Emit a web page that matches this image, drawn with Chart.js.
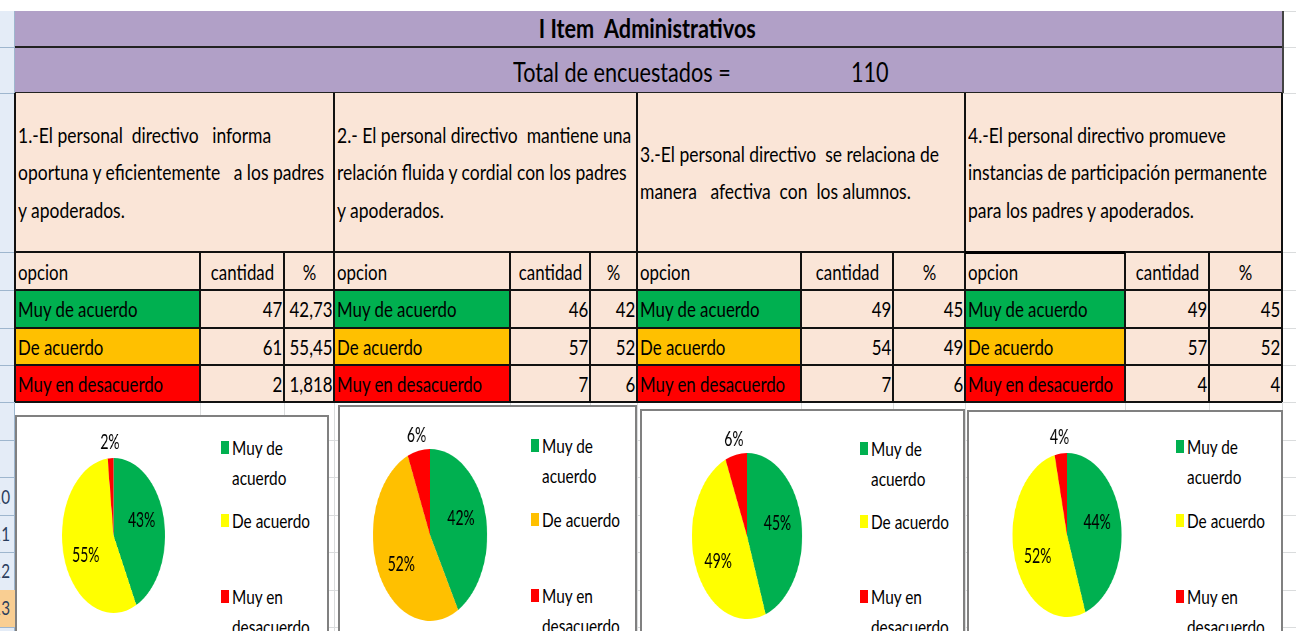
<!DOCTYPE html>
<html>
<head>
<meta charset="utf-8">
<script src="https://cdn.jsdelivr.net/npm/chart.js@4.4.0/dist/chart.umd.min.js"></script>
<style>
  html, body { margin: 0; padding: 0; }
  body {
    width: 1296px; height: 631px; overflow: hidden; position: relative; background: #fff;
    font-family: Lato, "Open Sans", sans-serif; color: #000;
  }
  .abs { position: absolute; box-sizing: border-box; }
  .in { display: inline-block; white-space: pre; }
</style>
</head>
<body>
<script>
// ===== data =====
const titulo = 'I Item  Administrativos';
const totalTexto = 'Total de encuestados =';
const totalValor = 110;
const encabezados = ['opcion', 'cantidad', '%'];
const opciones = ['Muy de acuerdo', 'De acuerdo', 'Muy en desacuerdo'];
const leyenda = ['Muy de\nacuerdo', 'De acuerdo', 'Muy en\ndesacuerdo'];

const pregunta1 = '1.-El personal  directivo   informa\noportuna y eficientemente   a los padres\ny apoderados.';
const pregunta2 = '2.- El personal directivo  mantiene una\nrelación fluida y cordial con los padres\ny apoderados.';
const pregunta3 = '3.-El personal directivo  se relaciona de\nmanera   afectiva  con  los alumnos.';
const pregunta4 = '4.-El personal directivo promueve\ninstancias de participación permanente\npara los padres y apoderados.';

const cantidad1 = [47, 61, 2];
const cantidad2 = [46, 57, 7];
const cantidad3 = [49, 54, 7];
const cantidad4 = [49, 57, 4];
const porcentaje1 = ['42,73', '55,45', '1,818'];
const porcentaje2 = ['42', '52', '6'];
const porcentaje3 = ['45', '49', '6'];
const porcentaje4 = ['45', '52', '4'];
const etiquetas1 = ['43%', '55%', '2%'];
const etiquetas2 = ['42%', '52%', '6%'];
const etiquetas3 = ['45%', '49%', '6%'];
const etiquetas4 = ['44%', '52%', '4%'];

const filasNumero = ['10', '11', '12', '13'];

// ===== colours & layout =====
const VERDE = '#00B050', AMARILLO = '#FFFF00', NARANJA = '#FFC000', ROJO = '#FF0000';
const coloresTabla = [VERDE, NARANJA, ROJO];
const coloresPie = [
  [VERDE, AMARILLO, ROJO],
  [VERDE, NARANJA, ROJO],
  [VERDE, AMARILLO, ROJO],
  [VERDE, AMARILLO, ROJO],
];
const MORADO = '#B1A0C7', DURAZNO = '#FAE5D7', GRID = '#DADCDD';
const FUENTE = 'Lato, "Open Sans", sans-serif';

// the screenshot is squeezed horizontally: measure once how much
const mctx = document.createElement('canvas').getContext('2d');
mctx.font = `21px ${FUENTE}`;
const ESCALA_TEXTO = 120 / mctx.measureText('Muy de acuerdo').width;

const bloques = [
  { cols: [15, 200, 284, 334], pregunta: pregunta1, cant: cantidad1, pct: porcentaje1 },
  { cols: [334, 510, 590, 637], pregunta: pregunta2, cant: cantidad2, pct: porcentaje2 },
  { cols: [637, 801, 893, 965], pregunta: pregunta3, cant: cantidad3, pct: porcentaje3 },
  { cols: [965, 1125, 1209, 1282], pregunta: pregunta4, cant: cantidad4, pct: porcentaje4 },
];
const filas = [252, 290, 328, 365, 402];

function box(x, y, w, h, css) {
  const d = document.createElement('div');
  d.className = 'abs';
  Object.assign(d.style, { left: x + 'px', top: y + 'px', width: w + 'px', height: h + 'px' }, css || {});
  document.body.appendChild(d);
  return d;
}
function hline(x1, x2, y, c, t) { box(x1, y - t / 2, x2 - x1, t, { background: c }); }
function vline(x, y1, y2, c, t) { box(x - t / 2, y1, t, y2 - y1, { background: c }); }

// text anchored at x (left/right/center), first line centred on yc
function texto(x, yc, str, size, align, lh, extra) {
  lh = lh || size * 1.3;
  const d = document.createElement('div');
  d.className = 'abs';
  const css = { top: (yc - lh / 2) + 'px', fontSize: size + 'px', lineHeight: lh + 'px' };
  if (align === 'right') Object.assign(css, { right: (1296 - x) + 'px', textAlign: 'right' });
  else if (align === 'center') Object.assign(css, { left: (x - 400) + 'px', width: '800px', textAlign: 'center' });
  else css.left = x + 'px';
  Object.assign(d.style, css, extra || {});
  const s = document.createElement('span');
  s.className = 'in';
  s.textContent = str;
  s.style.transform = `scaleX(${ESCALA_TEXTO})`;
  s.style.transformOrigin = align === 'right' ? '100% 50%' : align === 'center' ? '50% 50%' : '0 50%';
  d.appendChild(s);
  document.body.appendChild(d);
  return d;
}

// spreadsheet grid behind everything
[11, 47, 93, 252, 290, 328, 365, 402, 440, 477, 515, 552, 590, 627].forEach(y => hline(0, 1296, y, GRID, 1));
[200, 284, 334, 510, 590, 637, 801, 893, 965, 1125, 1209, 1282].forEach(x => vline(x, 402, 631, GRID, 1));

// row header strip
box(0, 11, 15, 620, { background: '#E4ECF7', borderRight: '1px solid #9EB6CE' });
[47, 93, 252, 290, 328, 365, 402, 440, 477, 515, 552, 590, 627].forEach(y => hline(0, 15, y, '#9EB6CE', 1));
box(0, 590, 15, 37, { background: '#F9CE92' });
filasNumero.forEach((n, i) => texto(10, 497 + i * 37, n, 19, 'right', 30, { color: '#2a3d5c' }));

// purple header
box(15, 11, 1268, 82, { background: MORADO });
hline(15, 1283, 47, '#222', 2);
hline(15, 1283, 93, '#222', 2);
vline(1283, 11, 93, '#444', 1.5);
texto(647, 28, titulo, 27, 'center', 34, { fontWeight: 'bold' });
texto(513, 72, totalTexto, 27, 'left', 34);
texto(851, 72, String(totalValor), 27, 'left', 34);

// question blocks + tables
bloques.forEach(b => {
  const [x0, x1, x2, x3] = b.cols;
  box(x0, 93, x3 - x0, 159, { background: DURAZNO });
  const nLineas = b.pregunta.split('\n').length;
  texto(x0 + 3, 172 - (nLineas - 1) * 37.5 / 2, b.pregunta, 21.8, 'left', 37.5);

  box(x0, filas[0], x3 - x0, filas[1] - filas[0], { background: DURAZNO });
  texto(x0 + 3, 272, encabezados[0], 21, 'left');
  texto((x1 + x2) / 2, 272, encabezados[1], 21, 'center');
  texto((x2 + x3) / 2, 272, encabezados[2], 21, 'center');

  opciones.forEach((op, i) => {
    const y = filas[i + 1], h = filas[i + 2] - y, yc = y + h / 2;
    box(x0, y, x1 - x0, h, { background: coloresTabla[i] });
    box(x1, y, x3 - x1, h, { background: DURAZNO });
    texto(x0 + 3, yc, op, 21, 'left');
    texto(x2 - 2, yc, String(b.cant[i]), 21, 'right');
    texto(x3 - 2, yc, b.pct[i], 21, 'right');
  });

  vline(x0, 93, 402, '#111', 2);
  vline(x3, 93, 402, '#111', 2);
  vline(x1, filas[0], 402, '#111', 1.5);
  vline(x2, filas[0], 402, '#111', 1.5);
  filas.forEach(y => hline(x0, x3, y, '#111', 1.5));
});
hline(965, 1125, 252, '#000', 3);

// chart boxes
const cajas = [
  { x: 15, y: 415, w: 314 },
  { x: 338, y: 405, w: 299 },
  { x: 640, y: 409, w: 325 },
  { x: 967, y: 410, w: 316 },
];
cajas.forEach(c => box(c.x, c.y, c.w, 260, { background: '#fff', border: '2px solid #808080' }));

// legends
const leyendas = [
  { sq: 221, ys: [448, 521, 597] },
  { sq: 531, ys: [446, 520, 596] },
  { sq: 860, ys: [449, 522, 597] },
  { sq: 1176, ys: [447, 521, 597] },
];
leyendas.forEach((l, ci) => {
  leyenda.forEach((t, i) => {
    box(l.sq, l.ys[i] - 7, 8, 13, { background: coloresPie[ci][i] });
    texto(l.sq + 11, l.ys[i], t, 19.2, 'left', 30);
  });
});

// ===== pies =====
const etiquetasPlugin = {
  id: 'etiquetas',
  afterDatasetsDraw(chart, args, opts) {
    const ctx = chart.ctx;
    const meta = chart.getDatasetMeta(0);
    ctx.save();
    ctx.font = `21px ${FUENTE}`;
    ctx.fillStyle = '#000';
    ctx.textAlign = 'center';
    ctx.textBaseline = 'middle';
    meta.data.forEach((arc, i) => {
      const p = arc.getProps(['x', 'y', 'startAngle', 'endAngle', 'outerRadius'], true);
      const mid = (p.startAngle + p.endAngle) / 2;
      const frac = (p.endAngle - p.startAngle) / (2 * Math.PI);
      const dist = frac < 0.1 ? p.outerRadius + 16 : p.outerRadius * 0.56;
      // excel's best-fit nudges the big labels a little downward in the left half
      const dy = frac < 0.1 ? 0 : (Math.cos(mid) < 0 ? 8 : -5);
      ctx.fillText(opts.textos[i], p.x + Math.cos(mid) * dist, p.y + Math.sin(mid) * dist + dy);
    });
    ctx.restore();
  }
};

const pies = [
  { cx: 113.5, cy: 535.5, r: 77.5, data: cantidad1, textos: etiquetas1 },
  { cx: 430, cy: 535, r: 86, data: cantidad2, textos: etiquetas2 },
  { cx: 746.5, cy: 536, r: 83, data: cantidad3, textos: etiquetas3 },
  { cx: 1067, cy: 535, r: 82, data: cantidad4, textos: etiquetas4 },
];
const PAD = 40, ESCALA_PIE = 0.665;

pies.forEach((p, i) => {
  const S = Math.round(2 * p.r + 2 * PAD);
  const wrap = box(p.cx - S / 2, p.cy - S / 2, S, S, { transform: `scaleX(${ESCALA_PIE})`, transformOrigin: '50% 50%' });
  const canvas = document.createElement('canvas');
  canvas.width = S;
  canvas.height = S;
  wrap.appendChild(canvas);
  new Chart(canvas, {
    type: 'pie',
    data: {
      labels: opciones,
      datasets: [{
        data: p.data,
        backgroundColor: coloresPie[i],
        borderWidth: 0,
        hoverOffset: 0,
        offset: 0,
      }],
    },
    options: {
      responsive: false,
      animation: false,
      events: [],
      layout: { padding: PAD },
      plugins: {
        legend: { display: false },
        tooltip: { enabled: false },
        etiquetas: { textos: p.textos },
      },
    },
    plugins: [etiquetasPlugin],
  });
});
</script>
</body>
</html>
